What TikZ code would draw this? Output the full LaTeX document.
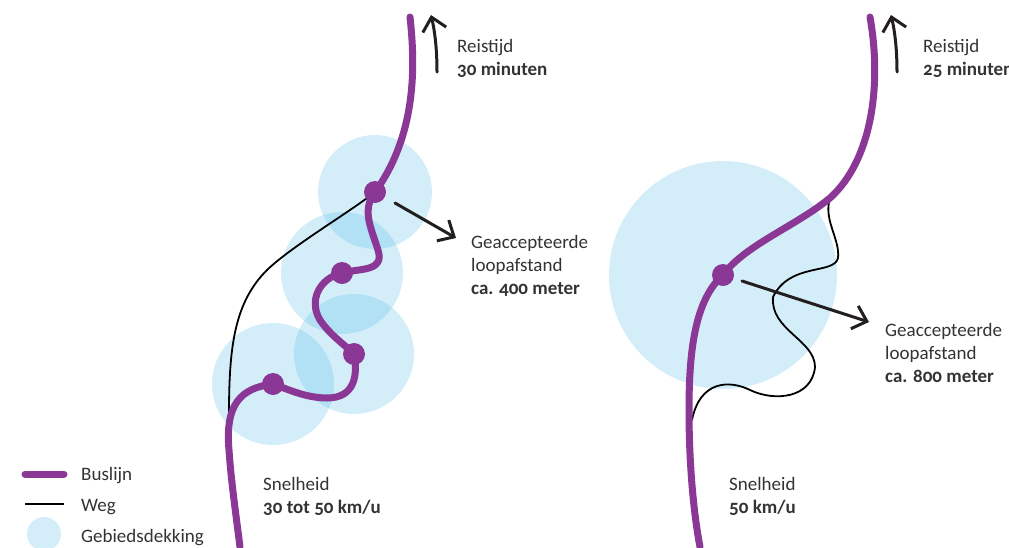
\documentclass[tikz,border=0pt]{standalone}
\usepackage{fontspec}
\setmainfont[Numbers=OldStyle]{Carlito}
\usetikzlibrary{arrows.meta}
\definecolor{buspaars}{HTML}{8B3795}
\definecolor{dekkingblauw}{HTML}{29ABE2}
\definecolor{tekstgrijs}{HTML}{333333}
\definecolor{pijlzwart}{HTML}{231F20}
\newcommand{\lbl}[2]{#1\\\textbf{#2}}
\begin{document}
\begin{tikzpicture}[
    x=1pt, y=-1pt,
    line cap=round, line join=round,
    buslijn/.style={draw=buspaars, line width=7pt},
    weg/.style={draw=black, line width=1.8pt},
    dekking/.style={circle, fill=dekkingblauw, fill opacity=0.2, inner sep=0pt},
    halte/.style={circle, fill=buspaars, minimum size=22pt, inner sep=0pt},
    pijl/.style={draw=pijlzwart, line width=3pt, -{Straight Barb[length=13pt, width=24pt, line width=3pt]}},
    tekst/.style={anchor=west, align=left, inner sep=0pt, text=tekstgrijs, font=\fontsize{19}{23}\selectfont}
  ]
    \useasboundingbox (0,0) rectangle (1009,547);

    % Gebiedsdekking links
    \node[dekking, minimum size=114pt] (dekkingA) at (375,192) {};
    \node[dekking, minimum size=122pt] (dekkingB) at (342,273) {};
    \node[dekking, minimum size=120pt] (dekkingC) at (354,354) {};
    \node[dekking, minimum size=122pt] (dekkingD) at (273,384) {};

    % Gebiedsdekking rechts
    \node[dekking, minimum size=228pt] (dekkingE) at (723,275) {};

    % Haltes
    \coordinate (startA) at (410,17);
    \coordinate (eindA) at (240,547);
    \coordinate (startB) at (870,17);
    \coordinate (eindB) at (700,547);
    \coordinate (wegA) at (229,413);
    \coordinate (wegB) at (829,202);
    \coordinate (wegC) at (692,420);

    % Wegen
    \draw[weg] (dekkingA.center) .. controls (350,212) and (292,246) .. (267,270)
      .. controls (235,302) and (229,345) .. (wegA);
    \draw[weg] (wegB) .. controls (825,222) and (840,240) .. (838,258)
      .. controls (834,275) and (790,262) .. (773,297)
      .. controls (770,330) and (815,340) .. (815,367)
      .. controls (812,398) and (775,402) .. (750,390)
      .. controls (730,380) and (700,380) .. (wegC);

    % Buslijnen
    \draw[buslijn] (startA) .. controls (414,55) and (420,130) .. (dekkingA.center)
      .. controls (362,210) and (370,225) .. (378,250)
      .. controls (385,272) and (360,268) .. (dekkingB.center)
      .. controls (320,278) and (308,300) .. (320,320)
      .. controls (330,335) and (345,345) .. (dekkingC.center)
      .. controls (358,375) and (355,398) .. (327,398)
      .. controls (305,398) and (285,388) .. (dekkingD.center)
      .. controls (240,388) and (225,405) .. (229,450)
      .. controls (231,480) and (236,515) .. (eindA);
    \draw[buslijn] (startB) .. controls (882,85) and (872,160) .. (830,198)
      .. controls (796,226) and (745,245) .. (dekkingE.center)
      .. controls (695,300) and (689,350) .. (689,410)
      .. controls (689,460) and (693,510) .. (eindB);

    \node[halte] (halteA) at (dekkingA.center) {};
    \node[halte] (halteB) at (dekkingB.center) {};
    \node[halte] (halteC) at (dekkingC.center) {};
    \node[halte] (halteD) at (dekkingD.center) {};
    \node[halte] (halteE) at (dekkingE.center) {};

    % Pijlen
    \coordinate (pijlA) at (437,72);
    \coordinate (pijlAeind) at (431,15);
    \coordinate (pijlB) at (897,72);
    \coordinate (pijlBeind) at (891,15);
    \coordinate (pijlC) at (395,203);
    \coordinate (pijlCeind) at (456,238);
    \coordinate (pijlD) at (742,281);
    \coordinate (pijlDeind) at (869,322);
    \draw[pijl] (pijlA) .. controls (437,50) and (435,32) .. (pijlAeind);
    \draw[pijl] (pijlB) .. controls (897,50) and (895,32) .. (pijlBeind);
    \draw[pijl] (pijlC) -- (pijlCeind);
    \draw[pijl] (pijlD) -- (pijlDeind);

    % Teksten
    \node[tekst] (reistijdA) at (457,58) {\lbl{Reistijd}{30 minuten}};
    \node[tekst] (reistijdB) at (923,58) {\lbl{Reistijd}{25 minuten}};
    \node[tekst] (afstandA) at (471,265.5) {Geaccepteerde\\loopafstand\\\textbf{ca. 400 meter}};
    \node[tekst] (afstandB) at (885,353) {Geaccepteerde\\loopafstand\\\textbf{ca. 800 meter}};
    \node[tekst] (snelheidA) at (263,496) {\lbl{Snelheid}{30 tot 50 km/u}};
    \node[tekst] (snelheidB) at (729,496) {\lbl{Snelheid}{50 km/u}};

    % Legenda
    \coordinate (legBusA) at (25,474);
    \coordinate (legBusB) at (64,474);
    \coordinate (legWegA) at (25,504);
    \coordinate (legWegB) at (64,504);
    \draw[buslijn] (legBusA) -- (legBusB);
    \draw[weg, line cap=butt] (legWegA) -- (legWegB);
    \node[dekking, minimum size=34pt] (legDekking) at (44,534) {};
    \node[tekst] (legTekstA) at (81,476) {Buslijn};
    \node[tekst] (legTekstB) at (81,507) {Weg};
    \node[tekst] (legTekstC) at (81,538) {Gebiedsdekking};
\end{tikzpicture}
\end{document}
